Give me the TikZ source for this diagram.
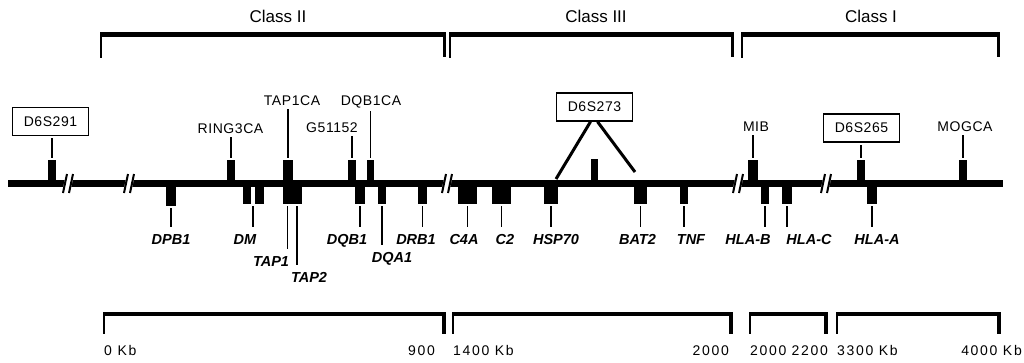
\documentclass[tikz,border=0pt]{standalone}
\usepackage{fontspec}
\setmainfont{Liberation Sans}
\newfontfamily\mkfont[LetterSpace=4]{Liberation Sans}
\newfontfamily\kbfont[LetterSpace=12]{Liberation Sans}
\usetikzlibrary{calc}

\begin{document}
\begin{tikzpicture}[x=1pt, y=-1pt,
  chrom/.style={line width=7pt},
  slash/.style={line width=2pt},
  upblk/.style={fill=black, inner sep=0pt, anchor=south, minimum height=24pt},
  dnblk/.style={fill=black, inner sep=0pt, anchor=north, minimum height=21pt},
  mtick/.style={line width=1.6pt, shorten <=2pt, shorten >=2pt},
  gtick/.style={line width=1.6pt, shorten <=2pt, shorten >=5pt},
  mk/.style={anchor=base, inner sep=1.5pt, font=\mkfont\fontsize{14}{16}\selectfont},
  mkbox/.style={draw, line width=1.4pt, inner sep=0pt, minimum width=76pt,
    minimum height=28pt, font=\mkfont\fontsize{14}{16}\selectfont},
  gene/.style={anchor=base, inner sep=1.5pt, font=\fontsize{14.5}{16}\selectfont\bfseries\itshape},
  cls/.style={anchor=base, font=\fontsize{17}{20}\selectfont},
  kb/.style={inner sep=0pt, font=\kbfont\fontsize{14}{16}\selectfont}]
  \useasboundingbox (0,0) rectangle (1024,362);

  % class brackets
  \foreach \a/\b in {100/446, 449/734, 741/1000} {
    \draw[line width=5pt] (\a,34.5) -- (\b,34.5);
    \draw[line width=2pt] (\a+1,33) -- (\a+1,58);
    \draw[line width=3pt] (\b-1.5,33) -- (\b-1.5,57);
  }
  \node[cls] (cII) at (278,22) {Class II};
  \node[cls] (cIII) at (596,22) {Class III};
  \node[cls] (cI) at (871,22) {Class I};

  % chromosome
  \coordinate (chrL) at (8,183.5);
  \coordinate (chrR) at (1003,183.5);
  \draw[chrom] (chrL) -- (chrR);
  \foreach \b in {68,129,447,738,826} {
    \fill[white] (\b-5,188) -- (\b-3,179) -- (\b+5,179) -- (\b+3,188) -- cycle;
    \draw[slash] (\b-5,193) -- (\b-1,174);
    \draw[slash] (\b+1,193) -- (\b+5,174);
  }

  % markers above
  \node[upblk, minimum width=8pt] (u291) at (52,184) {};
  \node[upblk, minimum width=8pt] (uring) at (231,184) {};
  \node[upblk, minimum width=10pt] (utap) at (288,184) {};
  \node[upblk, minimum width=8pt] (ug51) at (352,184) {};
  \node[upblk, minimum width=7pt] (udqb) at (370.5,184) {};
  \node[upblk, minimum width=7pt, minimum height=25pt] (u273) at (594.5,184) {};
  \node[upblk, minimum width=10pt] (umib) at (753,184) {};
  \node[upblk, minimum width=8pt] (u265) at (861,184) {};
  \node[upblk, minimum width=8pt] (umog) at (963,184) {};

  \node[mkbox] (b291) at (50.5,121.5) {D6S291};
  \node[mk] (lring) at (230.5,133) {RING3CA};
  \node[mk] (ltap) at (292,105) {TAP1CA};
  \node[mk] (ldqb) at (371,105) {DQB1CA};
  \node[mk] (lg51) at (332,132) {G51152};
  \node[mkbox] (b273) at (594.5,107) {D6S273};
  \node[mk] (lmib) at (756,131) {MIB};
  \node[mkbox] (b265) at (861.5,128) {D6S265};
  \node[mk] (lmog) at (965,131) {MOGCA};

  \draw[mtick] (u291.north) -- (u291.north |- b291.south);
  \draw[mtick] (uring.north) -- (uring.north |- lring.south);
  \draw[mtick] (utap.north) -- (utap.north |- ltap.south);
  \draw[mtick] (ug51.north) -- (ug51.north |- lg51.south);
  \draw[mtick] (udqb.north) -- (udqb.north |- ldqb.south);
  \draw[mtick] (umib.north) -- (umib.north |- lmib.south);
  \draw[mtick] (u265.north) -- (u265.north |- b265.south);
  \draw[mtick] (umog.north) -- (umog.north |- lmog.south);

  \coordinate (e273a) at (556,179);
  \coordinate (e273b) at (635,172);
  \draw[line width=3pt] ($(b273.south)+(-4,0)$) -- (e273a);
  \draw[line width=3pt] ($(b273.south)+(3,0)$) -- (e273b);

  % genes below
  \node[dnblk, minimum width=10pt, minimum height=23pt] (dpb) at (171,183) {};
  \node[dnblk, minimum width=8pt] (dmA) at (247,183) {};
  \node[dnblk, minimum width=9pt] (dmB) at (259.5,183) {};
  \node[dnblk, minimum width=9pt] (tapA) at (287.5,183) {};
  \node[dnblk, minimum width=10pt] (tapB) at (297,183) {};
  \node[dnblk, minimum width=10pt] (dqb) at (360,183) {};
  \node[dnblk, minimum width=8pt] (dqa) at (382,183) {};
  \node[dnblk, minimum width=9pt] (drb) at (422.5,183) {};
  \node[dnblk, minimum width=19pt] (c4a) at (467.5,183) {};
  \node[dnblk, minimum width=19pt] (c2) at (501.5,183) {};
  \node[dnblk, minimum width=14pt] (hsp) at (551,183) {};
  \node[dnblk, minimum width=13pt] (bat) at (640.5,183) {};
  \node[dnblk, minimum width=8pt] (tnf) at (684,183) {};
  \node[dnblk, minimum width=8pt] (hlab) at (765,183) {};
  \node[dnblk, minimum width=10pt] (hlac) at (787,183) {};
  \node[dnblk, minimum width=10pt] (hlaa) at (872,183) {};

  \node[gene] (ldpb) at (171,244) {DPB1};
  \node[gene] (ldm) at (245,244) {DM};
  \node[gene] (ltap1) at (271,266) {TAP1};
  \node[gene] (ltap2) at (309,282) {TAP2};
  \node[gene] (ldqb1) at (347,244) {DQB1};
  \node[gene] (ldqa1) at (392,262) {DQA1};
  \node[gene] (ldrb1) at (416,244) {DRB1};
  \node[gene] (lc4a) at (464,244) {C4A};
  \node[gene] (lc2) at (505,244) {C2};
  \node[gene] (lhsp) at (556,244) {HSP70};
  \node[gene] (lbat) at (637.5,244) {BAT2};
  \node[gene] (ltnf) at (691,244) {TNF};
  \node[gene] (lhlab) at (748,244) {HLA-B};
  \node[gene] (lhlac) at (809,244) {HLA-C};
  \node[gene] (lhlaa) at (877,244) {HLA-A};

  \coordinate (dmt) at ($(dmA.south east)!0.5!(dmB.south west)$);
  \draw[gtick] (dpb.south) -- (dpb.south |- ldpb.north);
  \draw[gtick] (dmt) -- (dmt |- ldm.north);
  \draw[gtick] (tapA.south) -- (tapA.south |- ltap1.north);
  \draw[gtick] (tapB.south) -- (tapB.south |- ltap2.north);
  \draw[gtick] (dqb.south) -- (dqb.south |- ldqb1.north);
  \draw[gtick] (dqa.south) -- (dqa.south |- ldqa1.north);
  \draw[gtick] (drb.south) -- (drb.south |- ldrb1.north);
  \draw[gtick] (c4a.south) -- (c4a.south |- lc4a.north);
  \draw[gtick] (c2.south) -- (c2.south |- lc2.north);
  \draw[gtick] (hsp.south) -- (hsp.south |- lhsp.north);
  \draw[gtick] (bat.south) -- (bat.south |- lbat.north);
  \draw[gtick] (tnf.south) -- (tnf.south |- ltnf.north);
  \draw[gtick] (hlab.south) -- (hlab.south |- lhlab.north);
  \draw[gtick] (hlac.south) -- (hlac.south |- lhlac.north);
  \draw[gtick] (hlaa.south) -- (hlaa.south |- lhlaa.north);

  % kb scale
  \foreach \a/\b in {103/446, 452/733, 749/828, 836/1001} {
    \draw[line width=3.5pt] (\a,314) -- (\b,314);
    \draw[line width=2pt] (\a+1,312.5) -- (\a+1,334);
    \draw[line width=4pt] (\b-2,312.5) -- (\b-2,334);
  }
  \node[kb, anchor=base west] (k0) at (104,355) {0 Kb};
  \node[kb, anchor=base east] (k900) at (435,355) {900};
  \node[kb, anchor=base west] (k1400) at (453,355) {1400 Kb};
  \node[kb, anchor=base east] (k2000a) at (729,355) {2000};
  \node[kb, anchor=base west] (k2000b) at (750,355) {2000};
  \node[kb, anchor=base east] (k2200) at (828,355) {2200};
  \node[kb, anchor=base west] (k3300) at (837,355) {3300 Kb};
  \node[kb, anchor=base east] (k4000) at (1022,355) {4000 Kb};
\end{tikzpicture}
\end{document}
